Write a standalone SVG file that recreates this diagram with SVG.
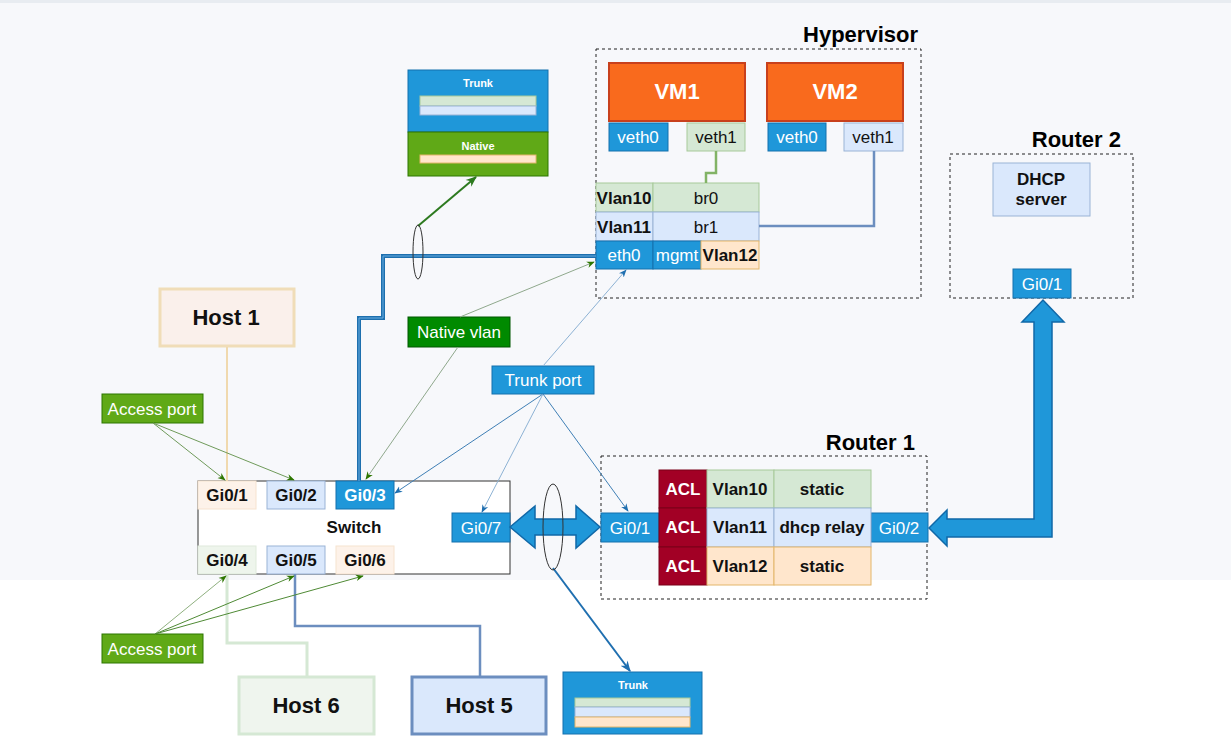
<svg xmlns="http://www.w3.org/2000/svg" width="1231" height="751" viewBox="0 0 1231 751">
<style>
text{font-family:"Liberation Sans",Arial,sans-serif;text-anchor:middle}
.b{font-weight:bold}
.t17{font-size:17px}
.t22{font-size:22px;font-weight:bold}
.t11{font-size:11px;font-weight:bold;fill:#ffffff}
.w{fill:#ffffff}
.k{fill:#111111}
.blue{fill:#1f97d9;stroke:#1470ad;stroke-width:1}
.green{fill:#d5e8d4;stroke:#a7c99a;stroke-width:1}
.lblue{fill:#dae8fc;stroke:#9ab3d6;stroke-width:1}
.peach{fill:#ffe6cc;stroke:#e3b66b;stroke-width:1}
.dash{fill:none;stroke:#222;stroke-width:1;stroke-dasharray:3,3}
.vm{fill:#f96a1d;stroke:#c8401c;stroke-width:2}
.acl{fill:#a20025;stroke:#7a0018;stroke-width:1}
.thin{fill:none;stroke-width:1}
</style>
<defs>
<marker id="aG" viewBox="0 0 10 10" refX="9" refY="5" markerWidth="8" markerHeight="8" markerUnits="userSpaceOnUse" orient="auto"><path d="M0,1 L10,5 L0,9 L3,5z" fill="#2d7600"/></marker>
<marker id="aB" viewBox="0 0 10 10" refX="9" refY="5" markerWidth="8" markerHeight="8" markerUnits="userSpaceOnUse" orient="auto"><path d="M0,1 L10,5 L0,9 L3,5z" fill="#1f6fb0"/></marker>
<marker id="aGT" viewBox="0 0 10 10" refX="9" refY="5" markerWidth="11" markerHeight="11" markerUnits="userSpaceOnUse" orient="auto"><path d="M0,1 L10,5 L0,9 L3,5z" fill="#2d7a1f"/></marker>
<marker id="aBT" viewBox="0 0 10 10" refX="9" refY="5" markerWidth="11" markerHeight="11" markerUnits="userSpaceOnUse" orient="auto"><path d="M0,1 L10,5 L0,9 L3,5z" fill="#1f6fb0"/></marker>
</defs>

<rect x="0" y="0" width="1231" height="751" fill="#ffffff"/>
<rect x="0" y="0" width="1231" height="580" fill="#f7f8fb"/>
<rect x="0" y="0" width="1231" height="3" fill="#e8ecf1"/>

<g id="trunk-top">
  <rect x="408" y="70" width="140" height="62" fill="#1f97d9" stroke="#1470ad"/>
  <rect x="408" y="132" width="140" height="44" fill="#60a917" stroke="#2d7600"/>
  <text x="478" y="87" class="t11">Trunk</text>
  <rect x="420" y="96" width="116" height="10" class="green"/>
  <rect x="420" y="106" width="116" height="9" class="lblue"/>
  <text x="478" y="150" class="t11">Native</text>
  <rect x="420" y="155" width="116" height="8" class="peach"/>
</g>

<g id="hypervisor">
  <rect x="596" y="49" width="325" height="249" class="dash"/>
  <text x="918" y="42" class="t22" style="text-anchor:end">Hypervisor</text>
</g>
<g id="vm1">
  <rect x="609" y="63" width="136" height="58" class="vm"/>
  <text x="677" y="99" class="t22 w">VM1</text>
  <rect x="609" y="123" width="59" height="28" class="blue"/>
  <text x="638" y="143" class="t17 w">veth0</text>
  <rect x="687" y="123" width="58" height="28" class="green"/>
  <text x="716" y="143" class="t17 k">veth1</text>
</g>
<g id="vm2">
  <rect x="767" y="63" width="136" height="58" class="vm"/>
  <text x="835" y="99" class="t22 w">VM2</text>
  <rect x="768" y="123" width="58" height="28" class="blue"/>
  <text x="797" y="143" class="t17 w">veth0</text>
  <rect x="844" y="123" width="59" height="28" class="lblue"/>
  <text x="873" y="143" class="t17 k">veth1</text>
</g>
<g id="bridges">
  <rect x="596" y="183" width="57" height="29" class="green"/>
  <rect x="653" y="183" width="106" height="29" class="green"/>
  <text x="624" y="204" class="t17 b k">Vlan10</text>
  <text x="706" y="204" class="t17 k">br0</text>
  <rect x="596" y="212" width="57" height="29" class="lblue"/>
  <rect x="653" y="212" width="106" height="29" class="lblue"/>
  <text x="624" y="233" class="t17 b k">Vlan11</text>
  <text x="706" y="233" class="t17 k">br1</text>
  <rect x="596" y="241" width="57" height="28" class="blue"/>
  <rect x="653" y="241" width="48" height="28" class="blue"/>
  <rect x="701" y="241" width="58" height="28" class="peach"/>
  <text x="624" y="261" class="t17 w">eth0</text>
  <text x="677" y="261" class="t17 w">mgmt</text>
  <text x="730" y="261" class="t17 b k">Vlan12</text>
</g>

<g id="router2">
  <rect x="950" y="154" width="183" height="144" class="dash"/>
  <text x="1121" y="147" class="t22" style="text-anchor:end">Router 2</text>
  <rect x="993" y="163" width="97" height="53" class="lblue" stroke="#6c8ebf"/>
  <text x="1041" y="185" class="t17 b k">DHCP</text>
  <text x="1041" y="205" class="t17 b k">server</text>
  <rect x="1013" y="269" width="58" height="29" class="blue"/>
  <text x="1042" y="290" class="t17 w">Gi0/1</text>
</g>

<g id="host1">
  <rect x="160" y="289" width="134" height="57" fill="#faf0eb" stroke="#f0ddb8" stroke-width="3"/>
  <text x="226" y="325" class="t22 k">Host 1</text>
</g>
<g id="access-port-top">
  <rect x="102" y="394" width="101" height="29" fill="#60a917" stroke="#2d7600"/>
  <text x="152" y="415" class="t17 w">Access port</text>
</g>
<g id="native-vlan">
  <rect x="408" y="317" width="102" height="30" fill="#008a00" stroke="#005700"/>
  <text x="459" y="338" class="t17 w">Native vlan</text>
</g>
<g id="trunk-port">
  <rect x="492" y="366" width="102" height="28" class="blue"/>
  <text x="543" y="386" class="t17 w">Trunk port</text>
</g>

<g id="switch">
  <rect x="198" y="481" width="312" height="93" fill="#ffffff" stroke="#333" stroke-width="1"/>
  <text x="354" y="533" class="t17 b k">Switch</text>
  <rect x="198" y="481" width="58" height="28" fill="#fdf2e9" stroke="#f6e3cf"/>
  <text x="227" y="501" class="t17 b k">Gi0/1</text>
  <rect x="267" y="481" width="58" height="28" class="lblue"/>
  <text x="296" y="501" class="t17 b k">Gi0/2</text>
  <rect x="336" y="481" width="58" height="28" class="blue"/>
  <text x="365" y="501" class="t17 b w">Gi0/3</text>
  <rect x="452" y="513" width="58" height="29" class="blue"/>
  <text x="481" y="534" class="t17 w">Gi0/7</text>
  <rect x="198" y="546" width="58" height="28" fill="#eef5ec" stroke="#dfeadb"/>
  <text x="227" y="566" class="t17 b k">Gi0/4</text>
  <rect x="267" y="546" width="58" height="28" class="lblue"/>
  <text x="296" y="566" class="t17 b k">Gi0/5</text>
  <rect x="336" y="546" width="58" height="28" fill="#fdf2e9" stroke="#f6e3cf"/>
  <text x="365" y="566" class="t17 b k">Gi0/6</text>
</g>

<g id="router1">
  <rect x="601" y="456" width="326" height="143" class="dash"/>
  <text x="915" y="450" class="t22" style="text-anchor:end">Router 1</text>
  <rect x="601" y="513" width="58" height="29" class="blue"/>
  <text x="630" y="534" class="t17 w">Gi0/1</text>
  <rect x="871" y="513" width="57" height="29" class="blue"/>
  <text x="899" y="534" class="t17 w">Gi0/2</text>
  <rect x="659" y="470" width="48" height="38" class="acl"/>
  <rect x="659" y="508" width="48" height="39" class="acl"/>
  <rect x="659" y="547" width="48" height="38" class="acl"/>
  <text x="683" y="495" class="t17 b w">ACL</text>
  <text x="683" y="533" class="t17 b w">ACL</text>
  <text x="683" y="572" class="t17 b w">ACL</text>
  <rect x="707" y="470" width="67" height="38" class="green"/>
  <rect x="774" y="470" width="97" height="38" class="green"/>
  <text x="740" y="495" class="t17 b k">Vlan10</text>
  <text x="822" y="495" class="t17 b k">static</text>
  <rect x="707" y="508" width="67" height="39" class="lblue"/>
  <rect x="774" y="508" width="97" height="39" class="lblue"/>
  <text x="740" y="533" class="t17 b k">Vlan11</text>
  <text x="822" y="533" class="t17 b k">dhcp relay</text>
  <rect x="707" y="547" width="67" height="38" class="peach"/>
  <rect x="774" y="547" width="97" height="38" class="peach"/>
  <text x="740" y="572" class="t17 b k">Vlan12</text>
  <text x="822" y="572" class="t17 b k">static</text>
</g>

<g id="access-port-bottom">
  <rect x="102" y="634" width="101" height="29" fill="#60a917" stroke="#2d7600"/>
  <text x="152" y="655" class="t17 w">Access port</text>
</g>
<g id="host6">
  <rect x="239" y="677" width="135" height="57" fill="#eff5ee" stroke="#d5e8d4" stroke-width="3"/>
  <text x="306" y="713" class="t22 k">Host 6</text>
</g>
<g id="host5">
  <rect x="412" y="677" width="134" height="57" fill="#dae8fc" stroke="#6c8ebf" stroke-width="3"/>
  <text x="479" y="713" class="t22 k">Host 5</text>
</g>
<g id="trunk-bottom">
  <rect x="563" y="672" width="139" height="62" fill="#1f97d9" stroke="#1470ad"/>
  <text x="633" y="689" class="t11">Trunk</text>
  <rect x="575" y="698" width="115" height="9" class="green"/>
  <rect x="575" y="707" width="115" height="10" class="lblue"/>
  <rect x="575" y="717" width="115" height="10" class="peach"/>
</g>

<g id="connectors">
  <path d="M227,347 L227,481" fill="none" stroke="#f0d9ae" stroke-width="2"/>
  <path d="M227,574 L227,643 L307,643 L307,676" fill="none" stroke="#d5e8d4" stroke-width="3"/>
  <path d="M295,574 L295,626 L480,626 L480,676" fill="none" stroke="#6c8ebf" stroke-width="2.5"/>
  <path d="M716,151 L716,173 L706,173 L706,183" fill="none" stroke="#82b366" stroke-width="2.5"/>
  <path d="M874,151 L874,226 L759,226" fill="none" stroke="#6c8ebf" stroke-width="2.5"/>
  <path d="M359,481 L359,318 L383,318 L383,256 L596,256" fill="none" stroke="#1d6fae" stroke-width="4"/>
  <path d="M359,481 L359,318 L383,318 L383,256 L596,256" fill="none" stroke="#6aaee0" stroke-width="1"/>
  <path d="M153,423 L225,480" class="thin" stroke="#6f9a5a" marker-end="url(#aG)"/>
  <path d="M153,423 L294,480" class="thin" stroke="#6f9a5a" marker-end="url(#aG)"/>
  <path d="M155,634 L226,576" class="thin" stroke="#8fb07f" marker-end="url(#aG)"/>
  <path d="M155,634 L294,576" class="thin" stroke="#4f8a35" marker-end="url(#aG)"/>
  <path d="M155,634 L363,576" class="thin" stroke="#4f8a35" marker-end="url(#aG)"/>
  <path d="M460,317 L594,262" class="thin" stroke="#8fa88c" marker-end="url(#aG)"/>
  <path d="M458,347 L366,479" class="thin" stroke="#8fa88c" marker-end="url(#aG)"/>
  <path d="M543,394 L395,493" class="thin" stroke="#3f7fb5" marker-end="url(#aB)"/>
  <path d="M543,394 L482,512" class="thin" stroke="#8db2d4" marker-end="url(#aB)"/>
  <path d="M543,394 L628,511" class="thin" stroke="#3f7fb5" marker-end="url(#aB)"/>
  <path d="M543,366 L626,270" class="thin" stroke="#8db2d4" marker-end="url(#aB)"/>
  <path d="M418,226 L476,177" fill="none" stroke="#2d7a1f" stroke-width="2" marker-end="url(#aGT)"/>
  <path d="M553,568 L630,671" fill="none" stroke="#1f6fb0" stroke-width="2" marker-end="url(#aBT)"/>
  <path d="M510,527 L535,506 L535,519 L576,519 L576,506 L600,527 L576,548 L576,535 L535,535 L535,548 Z" fill="#1f97d9" stroke="#1068a8" stroke-width="1.5"/>
  <path d="M929,528 L947,510 L947,519 L1034,519 L1034,322 L1022,322 L1043,300 L1064,322 L1052,322 L1052,537 L947,537 L947,546 Z" fill="#1f97d9" stroke="#1068a8" stroke-width="1.5"/>
  <ellipse cx="418" cy="252" rx="5" ry="27" fill="none" stroke="#333" stroke-width="1"/>
  <ellipse cx="553" cy="527" rx="10" ry="43" fill="none" stroke="#333" stroke-width="1"/>
</g>
</svg>
